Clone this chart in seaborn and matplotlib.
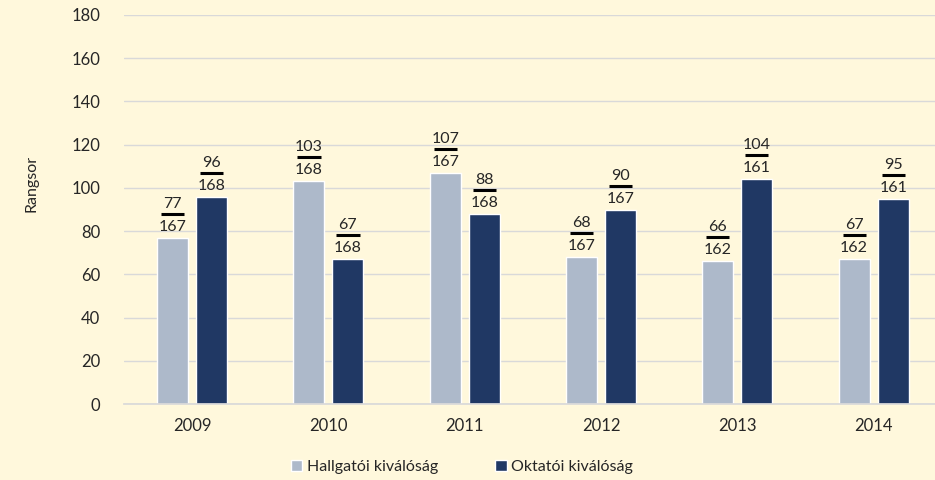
"""Rangsor chart: Hallgatói vs Oktatói kiválóság, 2009-2014."""
import matplotlib
matplotlib.use("Agg")
import matplotlib.pyplot as plt
from matplotlib.transforms import ScaledTranslation
import pandas as pd
import seaborn as sns

years = ["2009", "2010", "2011", "2012", "2013", "2014"]
series = ["Hallgatói kiválóság", "Oktatói kiválóság"]
hallgatoi_rank = [77, 103, 107, 68, 66, 67]
oktatoi_rank = [96, 67, 88, 90, 104, 95]
hallgatoi_total = [167, 168, 167, 167, 162, 162]
oktatoi_total = [168, 168, 168, 167, 161, 161]

BG = "#FFF8DC"
TEXT = "#262626"
colors = ["#ADB9CA", "#203864"]

df = pd.DataFrame({
    "year": years * 2,
    "series": [series[0]] * len(years) + [series[1]] * len(years),
    "rank": hallgatoi_rank + oktatoi_rank,
})

sns.set_theme(style="white")
plt.rcParams["font.family"] = ["Lato", "DejaVu Sans"]

fig = plt.figure(figsize=(9.35, 4.8), dpi=100, facecolor=BG)
ax = fig.add_axes([0.1326, 0.158, 0.8674, 0.811])
ax.set_facecolor(BG)

sns.barplot(data=df, x="year", y="rank", hue="series", order=years,
            hue_order=series, palette=colors, width=0.572, gap=0.206,
            saturation=1, ax=ax, zorder=2)

ax.set_ylim(0, 180)
ax.set_yticks(range(0, 181, 20))
ax.set_xlim(-0.5, 5.45)
ax.grid(axis="y", color="#D9D9D9", linewidth=1, zorder=0)
for side in ["top", "right", "left"]:
    ax.spines[side].set_visible(False)
ax.spines["bottom"].set_color("#D9D9D9")
ax.spines["bottom"].set_zorder(3)
ax.tick_params(axis="y", length=0, pad=17, labelsize=12, labelcolor=TEXT)
ax.tick_params(axis="x", length=0, pad=10, labelsize=12, labelcolor=TEXT)
ax.set_xlabel("")
ax.set_ylabel("")
fig.text(32 / 935, 1 - 183 / 480, "Rangsor", rotation=90, ha="center",
         va="center", fontsize=11.5, color=TEXT)

# fraction labels: rank over number of ranked institutions
line_shift = ax.transData + ScaledTranslation(0, 0.24, fig.dpi_scale_trans)
for container, ranks, totals in zip(ax.containers,
                                    [hallgatoi_rank, oktatoi_rank],
                                    [hallgatoi_total, oktatoi_total]):
    for bar, r, t in zip(container, ranks, totals):
        x = bar.get_x() + bar.get_width() / 2
        ax.annotate(str(t), (x, r), xytext=(0, 5), textcoords="offset points",
                    ha="center", va="baseline", fontsize=11.5, color=TEXT)
        ax.annotate(str(r), (x, r), xytext=(0, 21.6), textcoords="offset points",
                    ha="center", va="baseline", fontsize=11.5, color=TEXT)
        ax.plot([x - 0.085, x + 0.085], [r, r], color="black", linewidth=2.2,
                transform=line_shift, solid_capstyle="butt", clip_on=False)

handles, labels = ax.get_legend_handles_labels()
ax.legend(handles, labels, loc="center", bbox_to_anchor=(462 / 935, 1 - 467 / 480),
          bbox_transform=fig.transFigure, ncol=2, frameon=False, fontsize=11.5,
          handlelength=0.7, handleheight=0.7, handletextpad=0.3,
          columnspacing=3.6, labelcolor=TEXT)

fig.savefig("out.png", dpi=100, facecolor=BG)
